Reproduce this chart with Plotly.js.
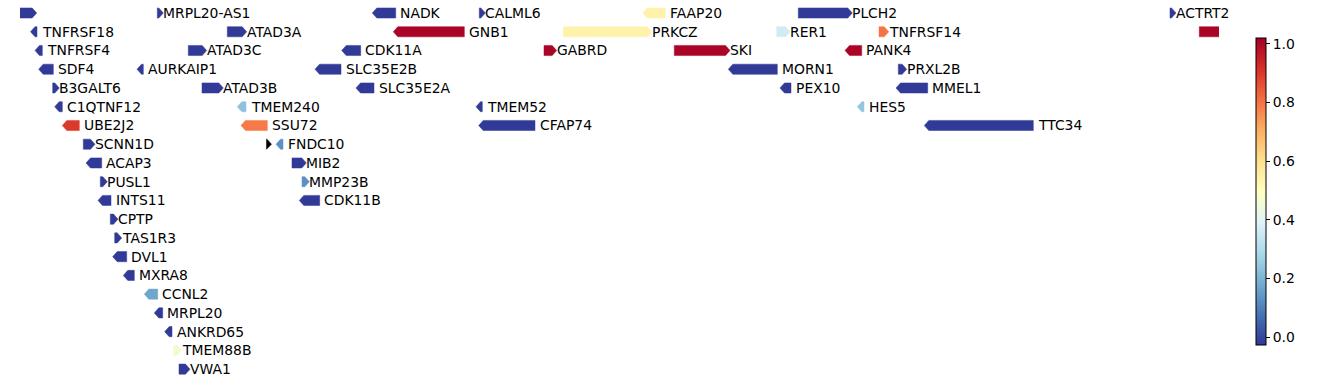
<!DOCTYPE html>
<html>
<head>
<meta charset="utf-8">
<script src="https://cdn.plot.ly/plotly-3.0.1.min.js"></script>
<style>html,body{margin:0;padding:0;background:#fff;}#chart{width:1338px;height:383px;}</style>
</head>
<body>
<div id="chart"></div>
<script>
// Gene track data (positions in kb, row = track line, strand +1/-1, value = colour score)
const geneNames = ["TTLL10","MRPL20-AS1","NADK","CALML6","FAAP20","PLCH2","ACTRT2",
  "TNFRSF18","ATAD3A","GNB1","PRKCZ","RER1","TNFRSF14","PRDM16",
  "TNFRSF4","ATAD3C","CDK11A","GABRD","SKI","PANK4",
  "SDF4","AURKAIP1","SLC35E2B","MORN1","PRXL2B",
  "B3GALT6","ATAD3B","SLC35E2A","PEX10","MMEL1",
  "C1QTNF12","TMEM240","TMEM52","HES5",
  "UBE2J2","SSU72","CFAP74","TTC34",
  "SCNN1D","","FNDC10",
  "ACAP3","MIB2",
  "PUSL1","MMP23B",
  "INTS11","CDK11B",
  "CPTP","TAS1R3","DVL1","MXRA8","CCNL2","MRPL20","ANKRD65","TMEM88B","VWA1"];
const geneStart = [1091.0,1406.7,1750.7,1921.9,2183.3,2432.3,3027.0,
  1203.8,1518.7,1784.3,2056.3,2397.7,2561.4,3073.9,
  1211.0,1456.3,1701.7,2025.4,2233.9,2507.0,
  1216.9,1374.2,1659.0,2320.3,2592.3,
  1239.3,1478.2,1724.6,2403.0,2588.6,
  1242.5,1534.7,1916.6,2526.7,
  1254.7,1540.6,1920.9,2633.9,
  1288.3,1581.4,1596.6,
  1292.6,1622.2,
  1315.5,1638.2,
  1311.8,1633.9,
  1331.5,1338.5,1335.3,1352.3,1385.9,1401.9,1418.5,1432.9,1441.4];
const geneEnd = [1213.7,1416.3,1788.1,1931.5,2219.5,2518.7,3036.6,
  1214.2,1549.7,1897.9,2197.7,2419.0,2576.9,3475.0,
  1222.7,1485.7,1732.1,2045.7,2323.0,2533.7,
  1240.3,1384.3,1700.6,2398.7,2605.7,
  1249.9,1512.3,1753.4,2420.6,2639.3,
  1254.7,1548.6,1926.7,2537.4,
  1281.9,1582.7,2011.0,2808.3,
  1307.0,1589.4,1607.8,
  1317.7,1645.1,
  1326.7,1649.9,
  1332.6,1666.5,
  1343.8,1349.7,1357.7,1369.9,1407.3,1415.3,1430.2,1445.7,1459.0];
const geneStrand = [1,1,-1,1,-1,1,1,
  -1,1,-1,1,1,1,1,
  -1,1,-1,1,1,-1,
  -1,-1,-1,-1,1,
  1,1,-1,-1,-1,
  -1,-1,-1,-1,
  -1,-1,-1,-1,
  1,1,-1,
  -1,1,
  1,1,
  -1,-1,
  1,1,-1,-1,-1,-1,-1,1,1];
const geneRow = [0,0,0,0,0,0,0,
  1,1,1,1,1,1,1,
  2,2,2,2,2,2,
  3,3,3,3,3,
  4,4,4,4,4,
  5,5,5,5,
  6,6,6,6,
  7,7,7,
  8,8,
  9,9,
  10,10,
  11,12,13,14,15,16,17,18,19];
const geneValue = [-0.02,-0.02,-0.02,-0.02,0.54,-0.02,-0.02,
  -0.02,-0.02,1.01,0.54,0.36,0.80,1.01,
  -0.02,-0.02,-0.02,1.01,1.01,1.01,
  -0.02,-0.02,-0.02,-0.02,-0.02,
  -0.02,-0.02,-0.02,-0.02,-0.02,
  -0.02,0.23,-0.02,0.24,
  0.90,0.79,-0.02,-0.02,
  -0.02,null,0.13,
  -0.02,-0.02,
  -0.02,0.13,
  -0.02,-0.02,
  -0.02,-0.02,-0.02,-0.02,0.17,-0.02,-0.02,0.46,-0.02];

const colorbarTicks = [0.0,0.2,0.4,0.6,0.8,1.0];
const colorMin = -0.027, colorMax = 1.02;
const viewRange = [1187.0, 3105.4];

// RdYlBu reversed
const rdylbu_r = ['#313695','#4575b4','#74add1','#abd9e9','#e0f3f8','#ffffbf','#fee090','#fdae61','#f46d43','#d73027','#a50026'];
const colorscale = rdylbu_r.map((c,i)=>[i/(rdylbu_r.length-1), c]);

function hexToRgb(h){return [parseInt(h.substr(1,2),16),parseInt(h.substr(3,2),16),parseInt(h.substr(5,2),16)];}
function colorAt(v){
  if (v === null || v === undefined) return 'rgb(0,0,0)';
  let t = (v - colorMin)/(colorMax - colorMin);
  t = Math.max(0, Math.min(1, t));
  const n = rdylbu_r.length-1;
  const i = Math.min(n-1, Math.floor(t*n));
  const f = t*n - i;
  const a = hexToRgb(rdylbu_r[i]), b = hexToRgb(rdylbu_r[i+1]);
  const c = a.map((x,k)=>Math.round(x + (b[k]-x)*f));
  return 'rgb('+c.join(',')+')';
}

const HALF = 0.27;   // half arrow height in row units
const HEAD = 7.2;    // arrow head length in kb

const traces = [];
const annotations = [];
for (let g=0; g<geneNames.length; g++){
  const s = geneStart[g], e = geneEnd[g], y = geneRow[g];
  const hl = Math.min(HEAD, e - s);
  let xs, ys;
  if (geneStrand[g] > 0){
    xs = [s, e-hl, e, e-hl, s, s];
    ys = [y-HALF, y-HALF, y, y+HALF, y+HALF, y-HALF];
  } else {
    xs = [e, s+hl, s, s+hl, e, e];
    ys = [y-HALF, y-HALF, y, y+HALF, y+HALF, y-HALF];
  }
  const col = colorAt(geneValue[g]);
  traces.push({type:'scatter', mode:'lines', x:xs, y:ys, fill:'toself', fillcolor:col,
    line:{color:col, width:0.5}, hoverinfo:'skip', showlegend:false});
  const inside = s >= viewRange[0] && e <= viewRange[1];
  if (inside && geneNames[g] !== ''){
    annotations.push({x:e, y:y, xref:'x', yref:'y', text:geneNames[g], showarrow:false,
      xanchor:'left', yanchor:'middle', xshift: geneStrand[g] > 0 ? -2 : 2.5,
      font:{family:'DejaVu Sans', size:13.9, color:'#000'}});
  }
}

// colour bar carrier
traces.push({type:'scatter', mode:'markers', x:[viewRange[0]-500], y:[0],
  marker:{size:1, opacity:0, color:[colorMin], cmin:colorMin, cmax:colorMax, colorscale:colorscale,
    showscale:true,
    colorbar:{xref:'container', yref:'container', x:1255.5/1338, y:1-38/383, xanchor:'left', yanchor:'top',
      xpad:0, ypad:0, thickness:10, thicknessmode:'pixels', len:307, lenmode:'pixels',
      outlinewidth:1, outlinecolor:'#000', ticks:'outside', ticklen:4, tickwidth:1, tickcolor:'#000',
      tickvals:colorbarTicks, tickformat:'.1f',
      tickfont:{family:'DejaVu Sans', size:13.9, color:'#000'}}},
  hoverinfo:'skip', showlegend:false});

const layout = {
  width:1338, height:383,
  margin:{l:20, r:119, t:0, b:0, pad:0, autoexpand:false},
  paper_bgcolor:'#fff', plot_bgcolor:'#fff',
  showlegend:false,
  xaxis:{range:viewRange, visible:false, showgrid:false, zeroline:false, fixedrange:true},
  yaxis:{range:[19.74, -0.694], visible:false, showgrid:false, zeroline:false, fixedrange:true},
  annotations:annotations,
  hovermode:false
};
Plotly.newPlot('chart', traces, layout, {displayModeBar:false, staticPlot:true});
</script>
</body>
</html>
